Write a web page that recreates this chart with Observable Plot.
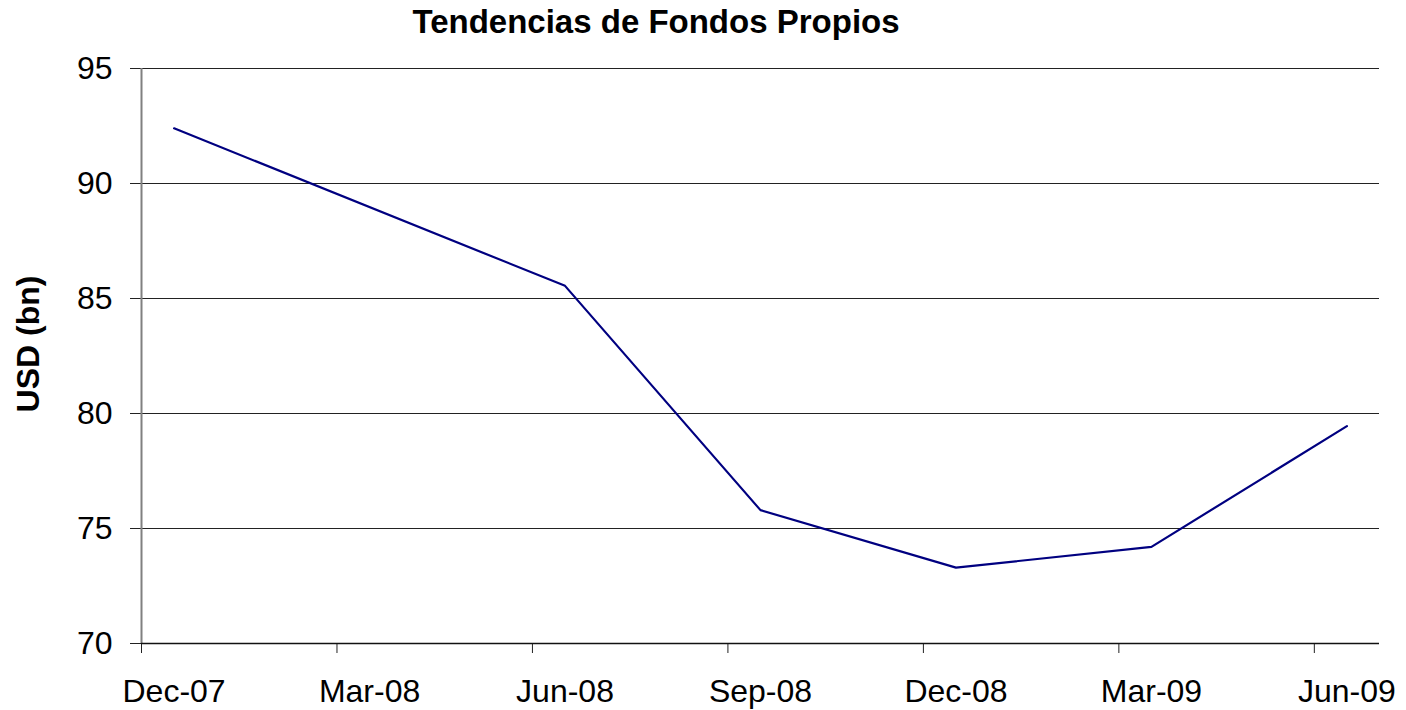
<!DOCTYPE html>
<html>
<head>
<meta charset="utf-8">
<script src="https://cdn.jsdelivr.net/npm/d3@7"></script>
<script src="https://cdn.jsdelivr.net/npm/@observablehq/plot@0.6"></script>
<style>
  html, body { margin: 0; padding: 0; background: #fff; }
  #wrap { width: 1406px; font-family: "Liberation Sans", Arial, sans-serif; }
  #title { position: relative; height: 48px; }
  #title span { position: absolute; left: 656px; top: 5px; transform: translateX(-50%);
    font-size: 33px; line-height: 33px; font-weight: bold; color: #000; white-space: nowrap; }
</style>
</head>
<body>
<div id="wrap">
  <div id="title"><span>Tendencias de Fondos Propios</span></div>
  <div id="chart"></div>
</div>
<script>
// Data
const periods = ["Dec-07", "Jun-08", "Sep-08", "Dec-08", "Mar-09", "Jun-09"];
const equity = [92.4, 85.55, 75.8, 73.3, 74.2, 79.45];
const tickLabels = ["Dec-07", "Mar-08", "Jun-08", "Sep-08", "Dec-08", "Mar-09", "Jun-09"];
const yTicks = [70, 75, 80, 85, 90, 95];
const axisEnd = "Jul-09";

const parse = d3.utcParse("%b-%y");
const origin = parse(tickLabels[0]);
const monthIndex = s => d3.utcMonth.count(origin, parse(s));

const data = periods.map((p, i) => ({ x: monthIndex(p) + 0.5, y: equity[i] }));
const tickPos = tickLabels.map(monthIndex);
const labelPos = tickLabels.map(s => monthIndex(s) + 0.5);
const labelByPos = new Map(labelPos.map((p, i) => [p, tickLabels[i]]));

const chart = Plot.plot({
  width: 1406,
  height: 662,
  marginTop: 20,
  marginBottom: 67,
  marginLeft: 141,
  marginRight: 27,
  style: { fontFamily: "'Liberation Sans', Arial, sans-serif", fontSize: "32px", color: "#000", background: "#fff" },
  x: { domain: [0, monthIndex(axisEnd)], axis: null },
  y: { domain: [yTicks[0], yTicks[yTicks.length - 1]], axis: null },
  marks: [
    Plot.ruleY(yTicks, { stroke: "#222", strokeWidth: 1.2 }),
    Plot.axisY({ ticks: yTicks, tickSize: 11, tickPadding: 18, stroke: "#222", fontSize: 32, label: null, tickFormat: d => d }),
    Plot.axisX({ ticks: tickPos, tickSize: 10, stroke: "#222", label: null, tickFormat: () => "" }),
    Plot.axisX({ ticks: labelPos, tickSize: 0, tickPadding: 36, fontSize: 32, label: null, tickFormat: d => labelByPos.get(d) }),
    Plot.ruleX([0], { stroke: "#808080", strokeWidth: 2, y1: yTicks[0], y2: yTicks[yTicks.length - 1] }),
    Plot.ruleY([yTicks[0]], { stroke: "#111", strokeWidth: 1.3 }),
    Plot.line(data, { x: "x", y: "y", stroke: "#000080", strokeWidth: 2.2 }),
    Plot.text(["USD (bn)"], { frameAnchor: "left", rotate: -90, dx: -113, dy: -12, fontSize: 32, fontWeight: "bold", fill: "#000", textAnchor: "middle" })
  ]
});
document.getElementById("chart").appendChild(chart);
</script>
</body>
</html>
